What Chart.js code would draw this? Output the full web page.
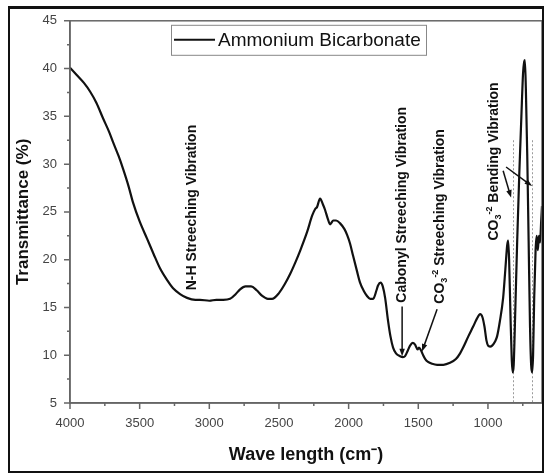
<!DOCTYPE html>
<html>
<head>
<meta charset="utf-8">
<script src="https://cdn.jsdelivr.net/npm/chart.js@4.4.0/dist/chart.umd.min.js"></script>
<style>
  html, body { margin: 0; padding: 0; background: #fff; }
  #wrap { position: relative; width: 545px; height: 475px; }
  #ftir { position: absolute; left: 0; top: 0; }
  #frame {
    position: absolute; left: 8px; top: 6px; width: 532px; height: 462px;
    border: 2px solid #111; border-top-width: 3px; pointer-events: none;
  }
</style>
</head>
<body>
<div id="wrap">
  <canvas id="ftir" width="545" height="475"></canvas>
  <div id="frame"></div>
</div>
<script>
// === Data ===
const seriesLabel = "Ammonium Bicarbonate";

const waveNumbers = [
  4000, 3950, 3900, 3856, 3810, 3763, 3720, 3691, 3650, 3619, 3580, 3548, 3500, 3447, 3400, 3354,
  3300, 3260, 3210, 3160, 3100, 3067, 3000, 2950, 2900, 2851, 2810, 2779, 2740, 2700, 2660, 2620,
  2580, 2550, 2500, 2460, 2420, 2380, 2349, 2298, 2262, 2240, 2227, 2205, 2185, 2169, 2150, 2133,
  2110, 2090, 2061, 2030, 2011, 1990, 1968, 1940, 1918, 1890, 1868, 1845, 1824, 1800, 1789, 1770,
  1755, 1738, 1717, 1700, 1681, 1660, 1631, 1610, 1595, 1575, 1559, 1540, 1523, 1505, 1495, 1480,
  1465, 1450, 1430, 1400, 1365, 1320, 1272, 1230, 1200, 1178, 1140, 1106, 1080, 1056, 1040, 1025,
  1010, 999, 985, 970, 950, 934, 915, 891, 875, 862, 855, 848, 838, 829, 822, 815,
  805, 790, 775, 760, 748, 740, 735, 728, 718, 708, 698, 690, 683, 676, 668, 658,
  650, 642, 634, 626, 618, 612
];

const transmittance = [
  40.1, 39.3, 38.5, 37.6, 36.4, 34.8, 33.4, 32.3, 30.8, 29.5, 27.7, 26.0, 24.0, 22.2, 20.6, 19.1,
  17.8, 17.0, 16.4, 16.0, 15.8, 15.8, 15.7, 15.8, 15.8, 15.9, 16.4, 16.9, 17.2, 17.2, 16.8, 16.2,
  15.9, 15.9, 16.5, 17.4, 18.5, 19.8, 20.9, 22.9, 24.6, 25.3, 25.5, 26.4, 25.8, 25.2, 24.3, 23.7,
  24.1, 24.1, 23.8, 23.2, 22.6, 21.7, 20.4, 18.8, 17.6, 16.7, 16.2, 15.9, 15.9, 16.8, 17.3, 17.6,
  17.2, 16.0, 13.6, 12.0, 10.8, 10.2, 9.9, 9.8, 9.9, 10.5, 11.0, 11.3, 11.1, 10.6, 10.8, 10.5,
  10.0, 9.6, 9.3, 9.1, 9.0, 9.0, 9.2, 9.6, 10.2, 10.8, 12.0, 13.0, 13.8, 14.3, 14.0, 13.0,
  11.5, 11.0, 10.9, 11.0, 11.4, 12.0, 13.5, 16.0, 19.0, 21.5, 22.0, 20.0, 14.0, 9.5, 8.2, 9.0,
  14.0, 22.0, 29.0, 35.0, 39.5, 40.7, 40.9, 38.0, 31.0, 22.0, 13.0, 9.0, 8.2, 10.0, 16.0, 21.0,
  22.5, 21.0, 22.5, 21.8, 24.0, 25.6
];

const xTicks = [4000, 3500, 3000, 2500, 2000, 1500, 1000];
const xMinorTicks = [3750, 3250, 2750, 2250, 1750, 1250, 750];
const yTicks = [5, 10, 15, 20, 25, 30, 35, 40, 45];
const yMinorTicks = [7.5, 12.5, 17.5, 22.5, 27.5, 32.5, 37.5, 42.5];

// dotted guide lines at the two carbonate bending bands
const bandLines = [820, 683];
const bandLineTop = 32.5;

// rotated band labels: anchored at the start (bottom) of the text
const bandLabels = [
  { parts: [{ t: "N-H Streeching Vibration" }], wave: 3124, value: 16.8 },
  { parts: [{ t: "Cabonyl Streeching Vibration" }], wave: 1616, value: 15.5 },
  { parts: [{ t: "CO" }, { t: "3", sub: true }, { t: "-2", sup: true }, { t: " Streeching Vibration" }], wave: 1343, value: 15.4 },
  { parts: [{ t: "CO" }, { t: "3", sub: true }, { t: "-2", sup: true }, { t: " Bending Vibration" }], wave: 956, value: 22.0 }
];

// arrows [fromWave, fromValue, toWave, toValue]
const bandArrows = [
  [1616, 15.1, 1616, 9.9],
  [1365, 14.8, 1473, 10.4],
  [891, 29.3, 834, 26.5],
  [870, 29.7, 683, 27.7]
];

const FONT = '"Liberation Sans", Arial, Helvetica, sans-serif';

function drawArrow(ctx, x1, y1, x2, y2) {
    const ang = Math.atan2(y2 - y1, x2 - x1);
    const head = 8;
    ctx.beginPath();
    ctx.moveTo(x1, y1);
    ctx.lineTo(x2 - Math.cos(ang) * head * 0.8, y2 - Math.sin(ang) * head * 0.8);
    ctx.stroke();
    ctx.beginPath();
    ctx.moveTo(x2, y2);
    ctx.lineTo(x2 - head * Math.cos(ang - 0.35), y2 - head * Math.sin(ang - 0.35));
    ctx.lineTo(x2 - head * Math.cos(ang + 0.35), y2 - head * Math.sin(ang + 0.35));
    ctx.closePath();
    ctx.fill();
}

function drawRotatedLabel(ctx, parts, x, y) {
    ctx.save();
    ctx.translate(x, y);
    ctx.rotate(-Math.PI / 2);
    ctx.textAlign = "left";
    ctx.textBaseline = "middle";
    let cx = 0;
    parts.forEach(p => {
        const size = (p.sub || p.sup) ? 9 : 14;
        ctx.font = `bold ${size}px ${FONT}`;
        const dy = p.sub ? 4 : (p.sup ? -5 : 0);
        ctx.fillText(p.t, cx, dy);
        cx += ctx.measureText(p.t).width;
    });
    ctx.restore();
}

const spectrumDecor = {
    id: "spectrumDecor",
    beforeDatasetsDraw(chart) {
        const { ctx, scales: { x, y } } = chart;
        ctx.save();
        ctx.strokeStyle = "#9a9a9a";
        ctx.lineWidth = 1;
        ctx.setLineDash([2, 2]);
        bandLines.forEach(w => {
            const px = Math.round(x.getPixelForValue(w)) + 0.5;
            ctx.beginPath();
            ctx.moveTo(px, y.getPixelForValue(bandLineTop));
            ctx.lineTo(px, y.getPixelForValue(5));
            ctx.stroke();
        });
        ctx.restore();
    },
    afterDraw(chart) {
        const { ctx, chartArea: area, scales: { x, y } } = chart;
        ctx.save();

        // frame round the plot
        ctx.strokeStyle = "#666";
        ctx.lineWidth = 1.5;
        ctx.strokeRect(area.left, area.top, area.right - area.left, area.bottom - area.top);

        // tick marks (outward)
        ctx.beginPath();
        xTicks.forEach(v => { const px = x.getPixelForValue(v); ctx.moveTo(px, area.bottom); ctx.lineTo(px, area.bottom + 6); });
        xMinorTicks.forEach(v => { const px = x.getPixelForValue(v); ctx.moveTo(px, area.bottom); ctx.lineTo(px, area.bottom + 3); });
        yTicks.forEach(v => { const py = y.getPixelForValue(v); ctx.moveTo(area.left, py); ctx.lineTo(area.left - 6, py); });
        yMinorTicks.forEach(v => { const py = y.getPixelForValue(v); ctx.moveTo(area.left, py); ctx.lineTo(area.left - 3, py); });
        ctx.stroke();

        // band labels and arrows
        ctx.fillStyle = "#111";
        ctx.strokeStyle = "#111";
        ctx.lineWidth = 1.5;
        bandLabels.forEach(b => {
            drawRotatedLabel(ctx, b.parts, x.getPixelForValue(b.wave), y.getPixelForValue(b.value));
        });
        bandArrows.forEach(a => {
            drawArrow(ctx, x.getPixelForValue(a[0]), y.getPixelForValue(a[1]),
                x.getPixelForValue(a[2]), y.getPixelForValue(a[3]));
        });

        // legend box
        const lx = area.left + 101, ly = area.top + 4, lw = 255, lh = 30;
        ctx.fillStyle = "#fff";
        ctx.fillRect(lx, ly, lw, lh);
        ctx.strokeStyle = "#888";
        ctx.lineWidth = 1;
        ctx.strokeRect(lx + 0.5, ly + 0.5, lw, lh);
        ctx.strokeStyle = "#111";
        ctx.lineWidth = 2;
        ctx.beginPath();
        ctx.moveTo(lx + 3, ly + lh / 2);
        ctx.lineTo(lx + 44, ly + lh / 2);
        ctx.stroke();
        ctx.fillStyle = "#111";
        ctx.font = `19px ${FONT}`;
        ctx.textAlign = "left";
        ctx.textBaseline = "middle";
        ctx.fillText(seriesLabel, lx + 47, ly + lh / 2 + 1);

        ctx.restore();
    }
};

new Chart(document.getElementById("ftir"), {
    type: "line",
    data: {
        datasets: [{
            label: seriesLabel,
            data: waveNumbers.map((w, i) => ({ x: w, y: transmittance[i] })),
            borderColor: "#111",
            borderWidth: 2.2,
            pointRadius: 0,
            fill: false,
            cubicInterpolationMode: "monotone"
        }]
    },
    options: {
        responsive: false,
        animation: false,
        layout: { padding: { top: 19, right: 3, left: 0, bottom: 0 } },
        plugins: { legend: { display: false }, tooltip: { enabled: false } },
        scales: {
            x: {
                type: "linear",
                reverse: true,
                min: 612,
                max: 4000,
                afterBuildTicks: s => { s.ticks = xTicks.map(v => ({ value: v })); },
                afterFit: s => { s.height = 72; },
                grid: { display: false, drawTicks: false },
                border: { display: true, color: "#666", width: 1.5 },
                ticks: {
                    color: "#444", font: { family: FONT, size: 13 }, padding: 13, maxRotation: 0,
                    callback: v => String(v)
                },
                title: {
                    display: true,
                    text: "Wave length (cm\u207B)",
                    color: "#111",
                    font: { family: FONT, size: 18, weight: "bold" },
                    padding: { top: 0, bottom: 9 }
                }
            },
            y: {
                min: 5,
                max: 45,
                afterBuildTicks: s => { s.ticks = yTicks.map(v => ({ value: v })); },
                afterFit: s => { s.width = 70; },
                grid: { display: false, drawTicks: false },
                border: { display: true, color: "#666", width: 1.5 },
                ticks: { color: "#444", font: { family: FONT, size: 13 }, padding: 13, callback: v => String(v) },
                title: {
                    display: true,
                    text: "Transmittance (%)",
                    color: "#111",
                    font: { family: FONT, size: 17, weight: "bold" },
                    padding: { top: 13, bottom: 0 }
                }
            }
        }
    },
    plugins: [spectrumDecor]
});
</script>
</body>
</html>
